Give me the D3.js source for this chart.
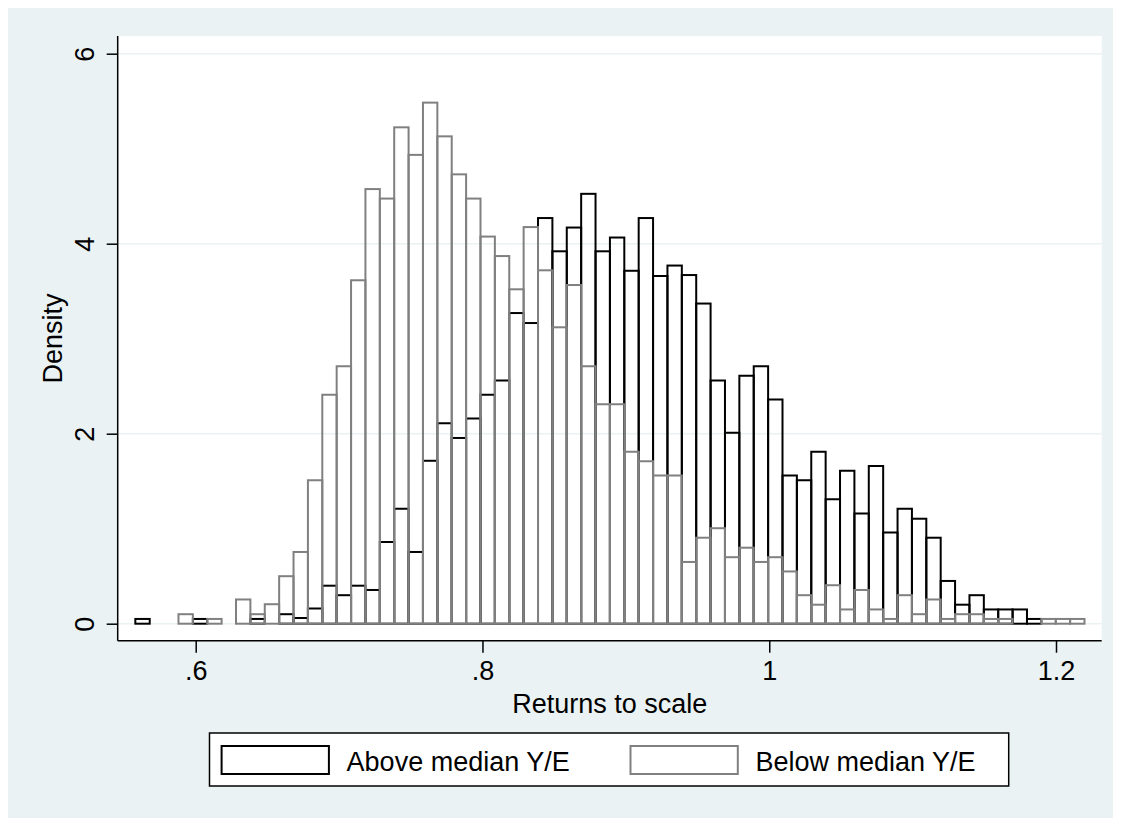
<!DOCTYPE html>
<html lang="en">
<head>
    <meta charset="UTF-8">
    <title>Returns to scale histogram</title>
    <script src="https://d3js.org/d3.v7.min.js"></script>
    <style>
        body { margin: 0; background: #fff; }
        text { font-family: Arial, "Liberation Sans", sans-serif; fill: #000; }
    </style>
</head>
<body>
    <script>
        // Histogram bins (shared by both groups)
        const binStart = 0.5579;
        const binWidth = 0.01003;

        // Density per bin, firms above median Y/E
        const aboveMedian = [
            0.05, 0, 0, 0, 0.05, 0, 0, 0, 0.05, 0,
            0.10, 0.06, 0.16, 0.40, 0.30, 0.40, 0.355, 0.86, 1.21, 0.755,
            1.715, 2.11, 1.955, 2.16, 2.41, 2.56, 3.27, 3.165, 4.27, 3.92,
            4.17, 4.525, 3.92, 4.065, 3.715, 4.27, 3.66, 3.77, 3.67, 3.37,
            2.56, 2.01, 2.61, 2.71, 2.36, 1.56, 1.51, 1.81, 1.31, 1.61,
            1.16, 1.66, 0.96, 1.21, 1.105, 0.905, 0.45, 0.20, 0.30, 0.15,
            0.15, 0.15, 0.05, 0, 0, 0
        ];

        // Density per bin, firms below median Y/E
        const belowMedian = [
            0, 0, 0, 0.10, 0, 0.05, 0, 0.255, 0.10, 0.205,
            0.50, 0.755, 1.51, 2.41, 2.71, 3.615, 4.575, 4.475, 5.225, 4.935,
            5.485, 5.13, 4.73, 4.475, 4.075, 3.87, 3.52, 4.175, 3.72, 3.12,
            3.565, 2.71, 2.31, 2.31, 1.81, 1.71, 1.56, 1.56, 0.65, 0.905,
            1.005, 0.70, 0.80, 0.65, 0.70, 0.55, 0.30, 0.20, 0.405, 0.15,
            0.355, 0.15, 0.05, 0.30, 0.10, 0.255, 0.05, 0.10, 0.10, 0.05,
            0.05, 0, 0, 0.05, 0.05, 0.05
        ];

        const xTicks = [0.6, 0.8, 1, 1.2];
        const xTickLabels = [".6", ".8", "1", "1.2"];
        const yTicks = [0, 2, 4, 6];
        const seriesNames = ["Above median Y/E", "Below median Y/E"];
        const seriesColors = ["#000000", "#808080"];

        const width = 1121, height = 818;
        const plot = { left: 117.7, right: 1101.7, top: 36, bottom: 640.7 };
        const bg = "#eaf2f3";

        const svg = d3.select("body").append("svg")
            .attr("width", width)
            .attr("height", height);

        // outer background
        svg.append("rect").attr("width", width).attr("height", height).attr("fill", "#fff");
        svg.append("rect")
            .attr("x", 8).attr("y", 8)
            .attr("width", width - 8 - 8).attr("height", height - 8)
            .attr("fill", bg);

        // plot region
        svg.append("rect")
            .attr("x", plot.left).attr("y", plot.top)
            .attr("width", plot.right - plot.left)
            .attr("height", plot.bottom - plot.top)
            .attr("fill", "#fff");

        const x = d3.scaleLinear().domain([0.6, 1.2]).range([195.7, 1056]);
        const y = d3.scaleLinear().domain([0, 6]).range([623.7, 53.7]);

        // gridlines
        svg.append("g")
            .selectAll("line")
            .data(yTicks)
            .join("line")
            .attr("x1", plot.left).attr("x2", plot.right)
            .attr("y1", d => y(d)).attr("y2", d => y(d))
            .attr("stroke", bg)
            .attr("stroke-width", 1.6);

        // bars: above median first, below median drawn on top
        [aboveMedian, belowMedian].forEach((values, s) => {
            const bins = values.map((v, i) => ({ x0: binStart + i * binWidth, x1: binStart + (i + 1) * binWidth, v }))
                .filter(d => d.v > 0);
            svg.append("g")
                .selectAll("rect")
                .data(bins)
                .join("rect")
                .attr("x", d => x(d.x0))
                .attr("width", d => x(d.x1) - x(d.x0))
                .attr("y", d => y(d.v))
                .attr("height", d => y(0) - y(d.v))
                .attr("fill", "none")
                .attr("stroke", seriesColors[s])
                .attr("stroke-width", 2);
        });

        // y axis
        const yAxis = svg.append("g")
            .attr("transform", `translate(${plot.left},0)`)
            .call(d3.axisLeft(y).tickValues(yTicks).tickSize(11).tickFormat(d3.format("d")));
        yAxis.select(".domain").remove();
        yAxis.selectAll(".tick line").attr("stroke", "#000").attr("stroke-width", 1.5);
        yAxis.selectAll(".tick text")
            .attr("x", null).attr("dy", null)
            .attr("text-anchor", "middle")
            .attr("transform", "translate(-23.5,0) rotate(-90)")
            .attr("font-size", 27)
            .attr("font-family", "Arial, 'Liberation Sans', sans-serif");

        // x axis
        const xAxis = svg.append("g")
            .attr("transform", `translate(0,${plot.bottom})`)
            .call(d3.axisBottom(x).tickValues(xTicks).tickSize(12).tickFormat((d, i) => xTickLabels[i]));
        xAxis.select(".domain").remove();
        xAxis.selectAll(".tick line").attr("stroke", "#000").attr("stroke-width", 1.5);
        xAxis.selectAll(".tick text")
            .attr("y", 39.3).attr("dy", null)
            .attr("font-size", 27)
            .attr("font-family", "Arial, 'Liberation Sans', sans-serif");

        // axis lines
        svg.append("line")
            .attr("x1", plot.left).attr("x2", plot.left)
            .attr("y1", plot.top).attr("y2", plot.bottom)
            .attr("stroke", "#000").attr("stroke-width", 1.5);
        svg.append("line")
            .attr("x1", plot.left).attr("x2", plot.right)
            .attr("y1", plot.bottom).attr("y2", plot.bottom)
            .attr("stroke", "#000").attr("stroke-width", 1.5);

        // axis titles
        svg.append("text")
            .attr("x", (plot.left + plot.right) / 2).attr("y", 713)
            .attr("text-anchor", "middle")
            .attr("font-size", 27)
            .text("Returns to scale");
        svg.append("text")
            .attr("transform", "translate(62,338.5) rotate(-90)")
            .attr("text-anchor", "middle")
            .attr("font-size", 27)
            .text("Density");

        // legend
        const legend = svg.append("g");
        legend.append("rect")
            .attr("x", 209.5).attr("y", 733)
            .attr("width", 1008.7 - 209.5).attr("height", 53)
            .attr("fill", "#fff")
            .attr("stroke", "#000").attr("stroke-width", 1.5);
        const keyX = [221.6, 630.5];
        seriesNames.forEach((name, i) => {
            legend.append("rect")
                .attr("x", keyX[i]).attr("y", 746)
                .attr("width", 107.3).attr("height", 28)
                .attr("fill", "none")
                .attr("stroke", seriesColors[i]).attr("stroke-width", 2);
            legend.append("text")
                .attr("x", keyX[i] + 125).attr("y", 771)
                .attr("font-size", 27)
                .text(name);
        });
    </script>
</body>
</html>
